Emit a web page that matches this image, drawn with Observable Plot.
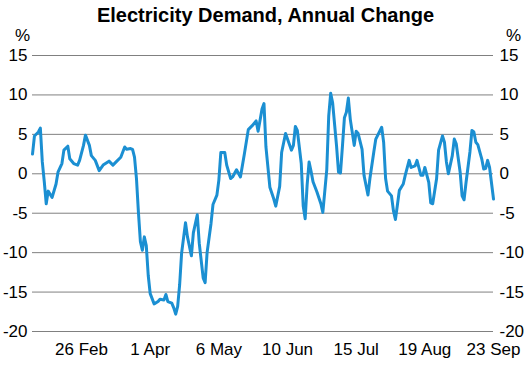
<!DOCTYPE html>
<html><head><meta charset="utf-8">
<script src="https://cdn.jsdelivr.net/npm/d3@7"></script>
<script src="https://cdn.jsdelivr.net/npm/@observablehq/plot@0.6"></script>
<style>
body{margin:0;background:#fff;font-family:"Liberation Sans",Arial,sans-serif;}
#title{height:26px;line-height:30px;text-align:center;font-weight:bold;font-size:20px;color:#000;}
#chart svg{display:block;overflow:visible;}
</style></head><body>
<div id="title">Electricity Demand, Annual Change</div>
<div id="chart"></div>
<script>
const dates = [
"2020-02-01","2020-02-02","2020-02-04","2020-02-05","2020-02-06","2020-02-07","2020-02-08","2020-02-09","2020-02-11","2020-02-13",
"2020-02-14","2020-02-16","2020-02-17","2020-02-19","2020-02-20","2020-02-22","2020-02-24","2020-02-25","2020-02-27","2020-02-28",
"2020-03-01","2020-03-02","2020-03-04","2020-03-06","2020-03-08","2020-03-11","2020-03-13","2020-03-15","2020-03-17","2020-03-19",
"2020-03-20","2020-03-22","2020-03-23","2020-03-24","2020-03-25","2020-03-26","2020-03-27","2020-03-28","2020-03-29","2020-03-30",
"2020-03-31","2020-04-01","2020-04-03","2020-04-05","2020-04-06","2020-04-08","2020-04-09","2020-04-10","2020-04-12","2020-04-13",
"2020-04-14","2020-04-15","2020-04-16","2020-04-17","2020-04-19","2020-04-20","2020-04-22","2020-04-23","2020-04-25","2020-04-26",
"2020-04-28","2020-04-29","2020-04-30","2020-05-02","2020-05-03","2020-05-05","2020-05-06","2020-05-07","2020-05-09","2020-05-10",
"2020-05-12","2020-05-13","2020-05-15","2020-05-17","2020-05-19","2020-05-21","2020-05-23","2020-05-25","2020-05-26","2020-05-28",
"2020-05-29","2020-05-30","2020-06-01","2020-06-03","2020-06-04","2020-06-06","2020-06-07","2020-06-09","2020-06-10","2020-06-12",
"2020-06-13","2020-06-14","2020-06-15","2020-06-17","2020-06-18","2020-06-19","2020-06-20","2020-06-21","2020-06-22","2020-06-23",
"2020-06-25","2020-06-27","2020-06-28","2020-06-30","2020-07-01","2020-07-02","2020-07-03","2020-07-05","2020-07-06","2020-07-07",
"2020-07-08","2020-07-09","2020-07-10","2020-07-11","2020-07-12","2020-07-14","2020-07-15","2020-07-16","2020-07-18","2020-07-19",
"2020-07-21","2020-07-22","2020-07-24","2020-07-25","2020-07-28","2020-07-29","2020-07-30","2020-07-31","2020-08-02","2020-08-03",
"2020-08-04","2020-08-05","2020-08-06","2020-08-08","2020-08-09","2020-08-11","2020-08-12","2020-08-14","2020-08-15","2020-08-17",
"2020-08-18","2020-08-19","2020-08-21","2020-08-22","2020-08-23","2020-08-25","2020-08-26","2020-08-28","2020-08-29","2020-08-30",
"2020-08-31","2020-09-02","2020-09-03","2020-09-04","2020-09-06","2020-09-07","2020-09-08","2020-09-09","2020-09-11","2020-09-12",
"2020-09-13","2020-09-14","2020-09-15","2020-09-17","2020-09-18","2020-09-19","2020-09-20","2020-09-21","2020-09-23"
];
const values = [
2.5,4.8,5.3,5.8,1.5,-1.0,-3.8,-2.2,-3.0,-1.3,
0.2,1.3,3.0,3.5,1.9,1.3,1.1,1.7,3.6,4.9,
3.6,2.3,1.7,0.4,1.1,1.6,1.1,1.6,2.1,3.4,
3.1,3.2,3.1,2.1,-0.6,-4.9,-8.6,-9.7,-8.0,-9.1,
-12.9,-15.2,-16.5,-16.2,-15.9,-16.0,-15.3,-16.2,-16.4,-17.0,
-17.8,-16.8,-14.1,-10.1,-6.2,-8.0,-10.4,-7.5,-5.2,-8.8,
-13.2,-13.8,-10.0,-6.3,-3.9,-2.7,-0.8,2.7,2.7,1.1,
-0.6,-0.4,0.5,-0.4,2.5,5.6,6.1,6.7,5.4,8.2,
8.9,3.4,-1.7,-3.2,-4.1,-1.6,2.7,5.1,4.4,3.0,
3.6,6.0,5.5,1.3,-4.1,-5.7,-1.4,1.5,0.3,-1.0,
-2.3,-3.8,-4.9,0.5,7.3,10.2,9.0,3.5,0.2,0.1,
3.5,7.1,7.8,9.6,6.9,3.6,5.4,5.1,3.1,-0.2,
-2.7,-0.6,2.8,4.4,5.9,4.0,-0.6,-2.2,-2.8,-4.7,
-5.8,-4.0,-2.1,-1.3,-0.2,1.7,0.8,1.0,1.7,-0.2,
-0.2,0.8,-1.1,-3.7,-3.8,-0.6,3.0,4.8,4.0,1.5,
0.0,2.3,4.4,3.8,0.2,-2.8,-3.3,-1.1,2.8,5.5,
5.3,4.0,3.7,1.9,0.6,0.7,1.7,0.8,-3.2
];
const yTicks = [15,10,5,0,-5,-10,-15,-20];
const xTicks = ["2020-02-26","2020-04-01","2020-05-06","2020-06-10","2020-07-15","2020-08-19","2020-09-23"];
const xDomain = ["2020-02-01","2020-09-23"];

const parse = d3.utcParse("%Y-%m-%d");
const data = dates.map((d,i)=>({date: parse(d), value: values[i]}));
const fmt = d3.utcFormat("%-d %b");
const yFmt = d => String(d);
const font = "'Liberation Sans', Arial, sans-serif";

const chart = Plot.plot({
  width: 531,
  height: 339,
  marginTop: 29,
  marginBottom: 34,
  marginLeft: 32,
  marginRight: 38,
  style: {fontFamily: font, fontSize: "17px", color: "#000", background: "#fff"},
  x: {type: "utc", domain: xDomain.map(parse)},
  y: {domain: [-20, 15]},
  marks: [
    Plot.ruleY(yTicks, {stroke: "#808080", strokeWidth: 1, strokeOpacity: 1}),
    Plot.line(data, {x: "date", y: "value", stroke: "#1b8fd2", strokeWidth: 3, curve: "linear"}),
    Plot.axisY(yTicks, {anchor: "left", tickSize: 0, tickPadding: 5, label: null, fontSize: 17, tickFormat: yFmt}),
    Plot.axisY(yTicks, {anchor: "right", tickSize: 0, tickPadding: 6, label: null, fontSize: 17, tickFormat: yFmt}),
    Plot.axisX(xTicks.map(parse), {tickSize: 0, tickPadding: 11, tickFormat: fmt, label: null, fontSize: 17}),
    Plot.text(["%"], {frameAnchor: "top-left", textAnchor: "middle", dx: -10, dy: -27, fontSize: 17}),
    Plot.text(["%"], {frameAnchor: "top-right", textAnchor: "middle", dx: 20, dy: -27, fontSize: 17})
  ]
});
document.getElementById("chart").appendChild(chart);
</script>
</body></html>
